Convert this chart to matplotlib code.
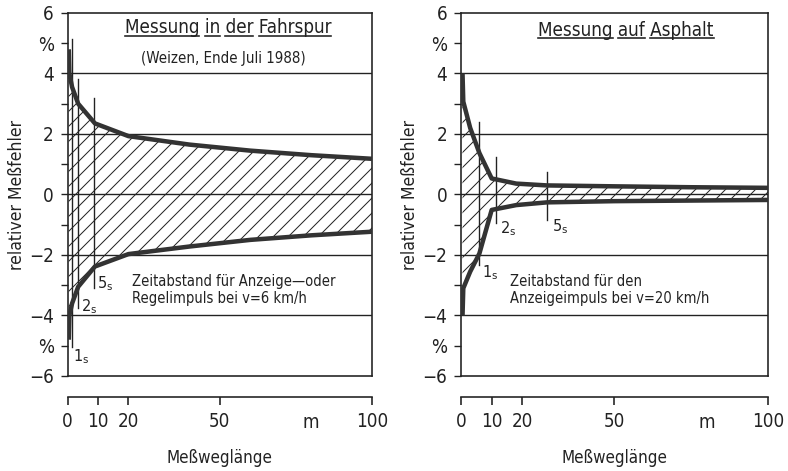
import matplotlib
matplotlib.use("Agg")
import matplotlib.pyplot as plt
from matplotlib.lines import Line2D

plt.rcParams['font.family'] = ['DejaVu Sans']
plt.rcParams['font.stretch'] = 'condensed'
plt.rcParams['hatch.linewidth'] = 0.8
plt.rcParams['hatch.color'] = '#222222'

# Fehlerbänder (oben/unten) über der Meßweglänge in m
x_fahrspur = [0.4, 0.6, 1.5, 3.5, 9, 20, 40, 60, 80, 100]
oben_fahrspur = [4.8, 4.0, 3.55, 3.0, 2.35, 1.93, 1.65, 1.45, 1.3, 1.18]
unten_fahrspur = [-4.8, -4.0, -3.6, -3.05, -2.38, -1.97, -1.72, -1.5, -1.35, -1.23]

x_asphalt = [0.5, 0.75, 3, 6, 10, 18, 28, 50, 75, 100]
oben_asphalt = [4.0, 3.07, 2.2, 1.37, 0.53, 0.36, 0.3, 0.27, 0.24, 0.22]
unten_asphalt = [-4.0, -3.1, -2.55, -1.95, -0.51, -0.35, -0.26, -0.22, -0.2, -0.18]

# Zeitmarken 1 s, 2 s, 5 s (Weg bei v=6 bzw. 20 km/h) mit Strichlänge
zeiten = ['1', '2', '5']
marken_fahrspur = [1.5, 3.6, 8.8]
marke_oben_fahrspur = [5.15, 3.83, 3.2]
marke_unten_fahrspur = [-5.05, -3.75, -3.1]
marken_asphalt = [5.9, 11.4, 27.9]
marke_oben_asphalt = [2.4, 1.25, 0.75]
marke_unten_asphalt = [-2.33, -0.95, -0.85]

# Beschriftung der Zeitmarken
txt_x_fahrspur = [1.9, 4.4, 9.7]
txt_y_fahrspur = [-5.35, -3.7, -2.95]
txt_x_asphalt = [6.9, 12.7, 29.6]
txt_y_asphalt = [-2.6, -1.13, -1.07]

y_ticks = list(range(-6, 7))
y_labels = ['−6', '%', '−4', '', '−2', '', '0', '', '2', '', '4', '%', '6']
x_ticks = [0, 10, 20, 50, 100]
x_labels = ['0', '10', '20', '50', '100']

dunkel = '#222222'
kurve = '#333333'


def unterstreichen(fig, t, renderer):
    # jedes Wort einzeln unterstreichen
    s = t.get_text()
    prop = t.get_fontproperties()
    bb = t.get_window_extent(renderer)
    w_all, h_all, d_all = renderer.get_text_width_height_descent(s, prop, ismath=False)
    base = bb.y0 + d_all
    y = base - 0.12 * prop.get_size_in_points() * fig.dpi / 72
    pos = 0
    inv = fig.transFigure.inverted()
    for wort in s.split(' '):
        pos = s.index(wort, pos)
        ende = pos + len(wort)
        w_end = renderer.get_text_width_height_descent(s[:ende], prop, ismath=False)[0]
        w_wort = renderer.get_text_width_height_descent(wort, prop, ismath=False)[0]
        x1 = bb.x0 + w_end
        x0 = x1 - w_wort
        (fx0, fy), (fx1, _) = inv.transform([(x0, y), (x1, y)])
        fig.add_artist(Line2D([fx0, fx1], [fy, fy], color=dunkel, lw=1.3))
        pos = ende


def diagramm(ax, x, oben, unten, marken, m_oben, m_unten, tx, ty):
    ax.set_xlim(0, 100)
    ax.set_ylim(-6, 6)

    ax.fill_between(x, unten, oben, facecolor='none', edgecolor=dunkel,
                    hatch='//', linewidth=0, zorder=2)
    for yy in [-4, -2, 0, 2, 4]:
        ax.axhline(yy, color=dunkel, lw=1.1, zorder=1)
    ax.axhline(-6, color=dunkel, lw=1.3, clip_on=False, zorder=3)
    ax.plot(x, oben, color=kurve, lw=3.6, solid_joinstyle='round',
            solid_capstyle='butt', zorder=4)
    ax.plot(x, unten, color=kurve, lw=3.6, solid_joinstyle='round',
            solid_capstyle='butt', zorder=4)

    for xm, y0, y1, z, xt, yt in zip(marken, m_unten, m_oben, zeiten, tx, ty):
        ax.plot([xm, xm], [y0, y1], color=dunkel, lw=1.1, zorder=3)
        ax.text(xt, yt, r'$\mathregular{%s_s}$' % z, fontsize=13,
                color=dunkel, ha='left', va='center', zorder=5)

    for sp in ['left', 'top', 'right']:
        ax.spines[sp].set_linewidth(1.3)
        ax.spines[sp].set_color(dunkel)
    ax.spines['bottom'].set_position(('outward', 17))
    ax.spines['bottom'].set_linewidth(1.3)
    ax.spines['bottom'].set_color(dunkel)

    ax.set_yticks(y_ticks, y_labels)
    ax.set_xticks(x_ticks, x_labels)
    ax.tick_params(axis='y', direction='out', length=6, width=1.1,
                   labelsize=15, pad=5, colors=dunkel)
    ax.tick_params(axis='x', direction='out', length=6, width=1.3,
                   labelsize=15, pad=6, colors=dunkel)
    ax.annotate('m', xy=(80, 0), xycoords=ax.get_xaxis_transform(),
                xytext=(0, -37), textcoords='offset points', ha='center',
                va='center', fontsize=15, color=dunkel)

    ax.text(-0.165, 0.5, 'relativer Meßfehler', transform=ax.transAxes,
            rotation=90, ha='center', va='center', fontsize=14, color=dunkel)
    ax.text(0.5, -0.226, 'Meßweglänge', transform=ax.transAxes,
            ha='center', va='center', fontsize=13.5, color=dunkel)


fig = plt.figure(figsize=(788 / 90, 471 / 90), dpi=90)
ax1 = fig.add_axes([0.0857, 0.2017, 0.3864, 0.7707])
ax2 = fig.add_axes([0.585, 0.2017, 0.3896, 0.7707])

diagramm(ax1, x_fahrspur, oben_fahrspur, unten_fahrspur, marken_fahrspur,
         marke_oben_fahrspur, marke_unten_fahrspur, txt_x_fahrspur, txt_y_fahrspur)
diagramm(ax2, x_asphalt, oben_asphalt, unten_asphalt, marken_asphalt,
         marke_oben_asphalt, marke_unten_asphalt, txt_x_asphalt, txt_y_asphalt)

t1 = ax1.text(0.527, 0.959, 'Messung in der Fahrspur', transform=ax1.transAxes,
              ha='center', va='center', fontsize=15, color=dunkel)
ax1.text(0.511, 0.876, '(Weizen, Ende Juli 1988)', transform=ax1.transAxes,
         ha='center', va='center', fontsize=12, color=dunkel)
t2 = ax2.text(0.537, 0.953, 'Messung auf Asphalt', transform=ax2.transAxes,
              ha='center', va='center', fontsize=15, color=dunkel)

ax1.text(0.212, 0.237, 'Zeitabstand für Anzeige—oder\nRegelimpuls bei v=6 km/h',
         transform=ax1.transAxes, ha='left', va='center', fontsize=11.7,
         linespacing=1.2, color=dunkel)
ax2.text(0.16, 0.237, 'Zeitabstand für den\nAnzeigeimpuls bei v=20 km/h',
         transform=ax2.transAxes, ha='left', va='center', fontsize=11.7,
         linespacing=1.2, color=dunkel)

fig.canvas.draw()
renderer = fig.canvas.get_renderer()
unterstreichen(fig, t1, renderer)
unterstreichen(fig, t2, renderer)

fig.savefig('out.png', dpi=90)
